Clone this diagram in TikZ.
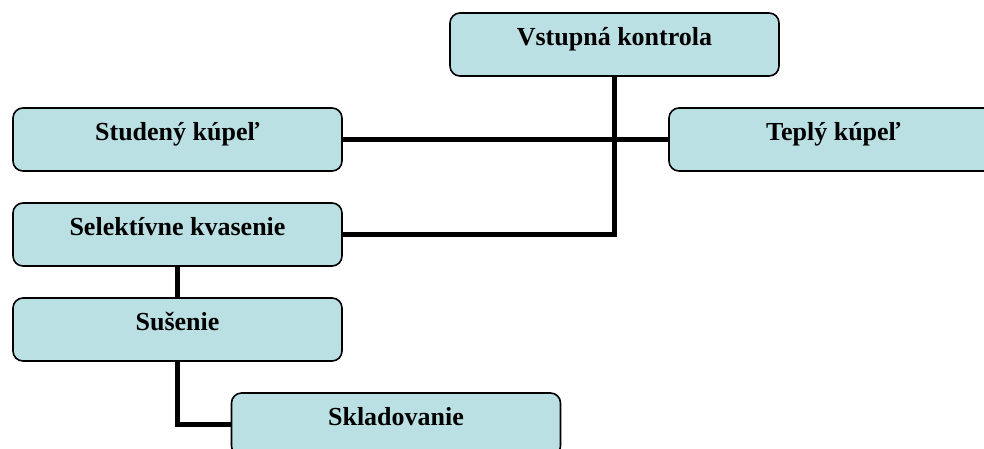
\documentclass[tikz,border=0pt]{standalone}
\usepackage{fontspec}
\setmainfont{Liberation Serif}
\usepackage{xcolor}
\definecolor{stagefill}{RGB}{187,224,227}
\tikzstyle{stage}=[draw=black,line width=1.6pt,fill=stagefill,rounded corners=10pt,
  minimum width=329pt,minimum height=63pt,inner xsep=4pt,inner ysep=5pt,
  text height=25pt,text depth=23pt,font=\fontsize{26}{30}\selectfont\bfseries]
\tikzstyle{link}=[line width=5pt,black]
\tikzset{y=-1pt}
\tikzset{x=1pt}

\begin{document}
\begin{tikzpicture}
  \clip (0,0) rectangle (984,448);
  \draw (614.5,44.5) node[stage] (vstup) {Vstupná kontrola};
  \draw (177.5,139.5) node[stage] (studeny) {Studený kúpeľ};
  \draw (833.5,139.5) node[stage] (teply) {Teplý kúpeľ};
  \draw (177.5,234.5) node[stage] (kvasenie) {Selektívne kvasenie};
  \draw (177.5,329.5) node[stage] (susenie) {Sušenie};
  \draw (396,424.5) node[stage] (sklad) {Skladovanie};

  %% connections
  \draw[link] (studeny.east) -- (teply.west);
  \draw[link] (vstup.south) |- (kvasenie.east);
  \draw[link] (kvasenie.south) -- (susenie.north);
  \draw[link] (susenie.south) |- (sklad.west);
\end{tikzpicture}
\end{document}
